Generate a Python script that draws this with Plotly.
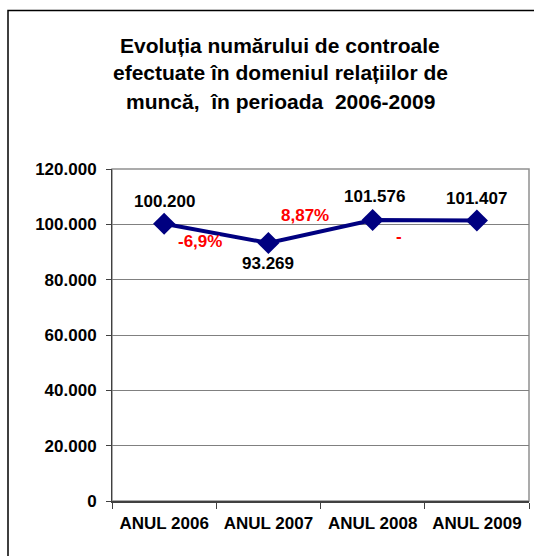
import plotly.graph_objects as go

years = ["ANUL 2006", "ANUL 2007", "ANUL 2008", "ANUL 2009"]
values = [100200, 93269, 101576, 101407]
value_labels = ["100.200", "93.269", "101.576", "101.407"]
change_labels = ["-6,9%", "8,87%", "-"]

title_lines = ["Evoluția numărului de controale",
               "efectuate în domeniul relațiilor de",
               "muncă,  în perioada  2006-2009"]

FONT = "Liberation Sans, Arial, sans-serif"

fig = go.Figure()
fig.add_trace(go.Scatter(
    x=years, y=values, mode="lines+markers",
    line=dict(color="#000080", width=4),
    marker=dict(symbol="diamond", size=17, color="#000080"),
    hoverinfo="skip", showlegend=False,
))

annotations = []
# value labels
shifts = [22, -21, 23, 22]
for i, (x, v, t) in enumerate(zip(years, values, value_labels)):
    annotations.append(dict(x=x, y=v, text=f"<b>{t}</b>", showarrow=False,
                            yshift=shifts[i], xshift=[0, 0, 2, 0][i],
                            font=dict(family=FONT, size=17, color="black")))
# change labels between points
cshift = [(-16, -8), (-16, 16), (-26, -16)]
for i, t in enumerate(change_labels):
    annotations.append(dict(x=i + 0.5, y=(values[i] + values[i + 1]) / 2,
                            text=f"<b>{t}</b>", showarrow=False,
                            xshift=cshift[i][0], yshift=cshift[i][1],
                            font=dict(family=FONT, size=17, color="#ff0000")))
# title
for k, line in enumerate(title_lines):
    annotations.append(dict(xref="paper", yref="paper",
                            x=(280 - 112) / 417, y=(501 - [45, 73, 102][k]) / 332,
                            text=f"<b>{line}</b>", showarrow=False,
                            xanchor="center", yanchor="middle",
                            font=dict(family=FONT, size=21, color="black")))

fig.update_layout(
    width=534, height=556,
    margin=dict(l=112, r=5, t=169, b=55),
    paper_bgcolor="white", plot_bgcolor="white",
    separators=",.",
    annotations=annotations,
    shapes=[dict(type="rect", xref="paper", yref="paper",
                 x0=(8 - 112) / 417, x1=(545 - 112) / 417,
                 y0=(501 - 570) / 332, y1=(501 - 10.5) / 332,
                 line=dict(color="black", width=1.5), layer="below")],
    xaxis=dict(type="category", range=[-0.5, 3.5],
               showline=True, linecolor="#404040", linewidth=2,
               mirror=False, showgrid=False,
               ticks="outside", tickson="boundaries", ticklen=6,
               tickcolor="#404040", ticklabelstandoff=6,
               tickfont=dict(family=FONT, size=17, color="black"),
               fixedrange=True),
    yaxis=dict(range=[0, 120000], dtick=20000, tickformat=",d",
               showline=True, linecolor="#404040", linewidth=1,
               showgrid=True, gridcolor="#808080", gridwidth=1,
               zeroline=False,
               ticks="outside", ticklen=5, tickcolor="#404040",
               ticklabelstandoff=6,
               tickfont=dict(family=FONT, size=17, color="black"),
               fixedrange=True),
)
# plot area border (grey top/right)
fig.add_shape(type="rect", xref="paper", yref="paper", x0=0, x1=1, y0=0, y1=1,
              line=dict(color="#909090", width=1.5), layer="below")

fig.update_yaxes(tickprefix="<b>", ticksuffix="</b>")
fig.update_xaxes(ticktext=[f"<b>{y}</b>" for y in years], tickvals=years)

fig.write_html("out.html", config={"displayModeBar": False},
               post_script="document.body.style.margin='0';document.body.style.overflow='hidden';")
